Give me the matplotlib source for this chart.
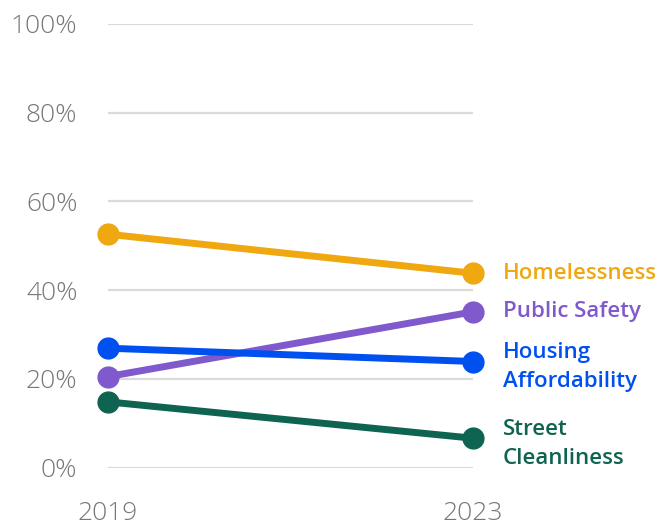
import matplotlib.pyplot as plt

years = ["2019", "2023"]
issues = ["Homelessness", "Public Safety", "Housing\nAffordability", "Street\nCleanliness"]
share_2019 = [52.6, 20.5, 26.9, 14.8]
share_2023 = [43.8, 35.1, 23.9, 6.6]
colors = ["#EFA80F", "#8059CC", "#0050F0", "#0E6450"]
yticks = [0, 20, 40, 60, 80, 100]

plt.rcParams["font.family"] = ["Open Sans", "DejaVu Sans"]

fig = plt.figure(figsize=(6.62, 5.25), dpi=100)
ax = fig.add_axes([108 / 662, 1 - 467.5 / 525, (473 - 108) / 662, (467.5 - 24) / 525])

x = [0, 1]
for name, a, b, c in zip(issues, share_2019, share_2023, colors):
    ax.plot(x, [a, b], color=c, lw=5, marker="o", ms=15, solid_capstyle="round",
            zorder=3, clip_on=False)
    # two-line labels sit a touch lower than the end point
    dy = -4 if "\n" in name else 0
    ax.annotate(name, xy=(1, b), xytext=(21.5, dy), textcoords="offset points",
                color=c, fontsize=16, fontweight="semibold", va="center", ha="left",
                linespacing=1.5, annotation_clip=False)

ax.set_xlim(0, 1)
ax.set_ylim(0, 100)
ax.set_xticks(x)
ax.set_xticklabels(years)
ax.set_yticks(yticks)
ax.set_yticklabels([f"{t}%" for t in yticks])
ax.yaxis.grid(True, color="#dadada", lw=1.6)
ax.set_axisbelow(True)
for s in ax.spines.values():
    s.set_visible(False)
ax.tick_params(length=0, labelsize=19, labelcolor="#777777")
ax.tick_params(axis="y", pad=22)
ax.tick_params(axis="x", pad=24)
for lbl in ax.get_xticklabels() + ax.get_yticklabels():
    lbl.set_fontweight("light")

fig.savefig("out.png", dpi=100)
